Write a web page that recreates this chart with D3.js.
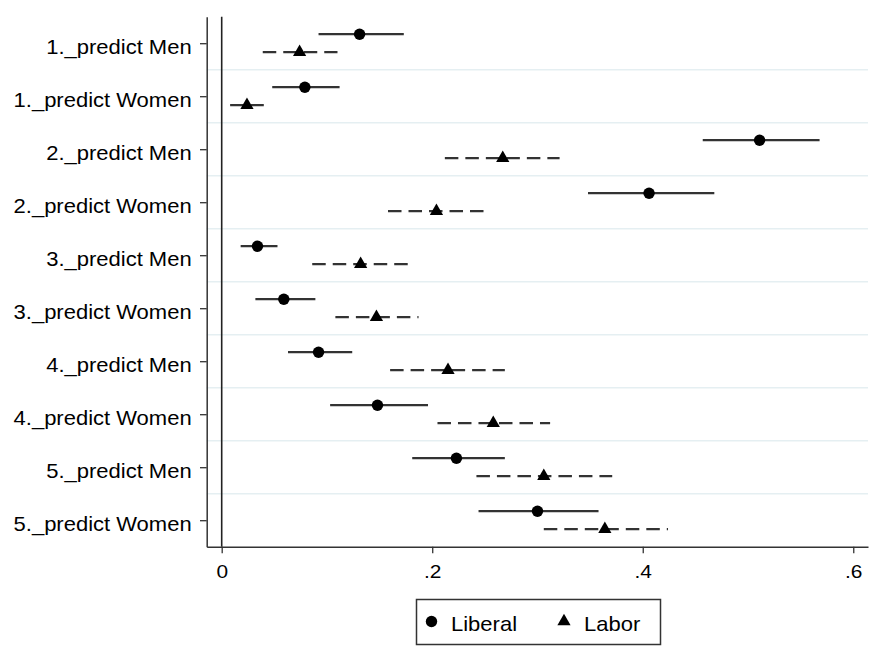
<!DOCTYPE html>
<html>
<head>
<meta charset="utf-8">
<script src="https://cdn.jsdelivr.net/npm/d3@7"></script>
<style>
    body { margin: 0; background: #fff; }
    text { font-family: "Liberation Sans", Arial, Helvetica, sans-serif; fill: #000; }
</style>
</head>
<body>
<svg id="chart" width="880" height="671"></svg>
<script>
// predicted probabilities with 95% CIs
const categories = [
    "1._predict Men", "1._predict Women",
    "2._predict Men", "2._predict Women",
    "3._predict Men", "3._predict Women",
    "4._predict Men", "4._predict Women",
    "5._predict Men", "5._predict Women"
];

const liberalEst = [0.131, 0.079, 0.511, 0.406, 0.034, 0.059, 0.092, 0.148, 0.223, 0.300];
const liberalLo  = [0.092, 0.048, 0.457, 0.348, 0.018, 0.032, 0.063, 0.103, 0.181, 0.244];
const liberalHi  = [0.173, 0.112, 0.568, 0.468, 0.053, 0.089, 0.124, 0.196, 0.269, 0.358];

const laborEst = [0.074, 0.024, 0.267, 0.204, 0.132, 0.147, 0.215, 0.258, 0.306, 0.364];
const laborLo  = [0.039, 0.008, 0.212, 0.158, 0.086, 0.108, 0.160, 0.205, 0.242, 0.306];
const laborHi  = [0.110, 0.040, 0.321, 0.249, 0.177, 0.187, 0.269, 0.312, 0.371, 0.424];

const seriesNames = ["Liberal", "Labor"];

const xTickValues = [0, 0.2, 0.4, 0.6];
const xTickLabels = ["0", ".2", ".4", ".6"];

// stata pads the x range a little beyond the ticks
const xMin = -0.01425;
const xMax = 0.614;

let svg = d3.select("#chart");

svg.append("rect")
    .attr("width", 880)
    .attr("height", 671)
    .style("fill", "#fff");

let x = d3.scaleLinear().domain([xMin, xMax]).range([206.7, 868]);
let y = d3.scalePoint().domain(categories).range([16.7, 546.7]).padding(0.5);

let textScale = "scale(1.1,1)";

// light grid lines between categories
let mids = categories.slice(1).map((c, i) => (y(categories[i]) + y(c)) / 2);
svg.append("g")
    .selectAll("line")
    .data(mids)
    .enter()
    .append("line")
    .attr("x1", x.range()[0])
    .attr("x2", x.range()[1])
    .attr("y1", d => d)
    .attr("y2", d => d)
    .style("stroke", "#e5eff2")
    .style("stroke-width", 1.5);

// reference line at zero
svg.append("line")
    .attr("x1", x(0))
    .attr("x2", x(0))
    .attr("y1", y.range()[0])
    .attr("y2", y.range()[1])
    .style("stroke", "#222")
    .style("stroke-width", 1.6);

// axes
let yAxisG = svg.append("g")
    .attr("transform", "translate(" + x.range()[0] + ",0)")
    .call(d3.axisLeft(y).tickSize(6.7).tickSizeOuter(0).tickPadding(7));

let xAxisG = svg.append("g")
    .attr("transform", "translate(0," + y.range()[1] + ")")
    .call(d3.axisBottom(x)
        .tickValues(xTickValues)
        .tickFormat((d, i) => xTickLabels[i])
        .tickSize(6.6)
        .tickSizeOuter(0)
        .tickPadding(11.7));

[yAxisG, xAxisG].forEach(g => {
    g.select(".domain").style("stroke", "#333").style("stroke-width", 1.5);
    g.selectAll(".tick line").style("stroke", "#333").style("stroke-width", 1.3);
    g.selectAll(".tick text")
        .attr("fill", null)
        .style("fill", "#000")
        .attr("transform", textScale);
});

yAxisG.selectAll(".tick text")
    .attr("dy", "0.5em")
    .style("font-size", "20px");

xAxisG.selectAll(".tick text")
    .style("font-size", "19px");

// one config per series
let series = [
    { name: seriesNames[0], est: liberalEst, lo: liberalLo, hi: liberalHi, offset: -9, dash: null, symbol: d3.symbolCircle, size: 102 },
    { name: seriesNames[1], est: laborEst, lo: laborLo, hi: laborHi, offset: 9, dash: "13.5,7", symbol: d3.symbolTriangle, size: 76 }
];

series.forEach(s => {
    let rows = categories.map((c, i) => ({ cat: c, est: s.est[i], lo: s.lo[i], hi: s.hi[i] }));
    let g = svg.append("g").attr("class", "series");

    g.selectAll("line")
        .data(rows)
        .enter()
        .append("line")
        .attr("x1", d => x(d.lo))
        .attr("x2", d => x(d.hi))
        .attr("y1", d => y(d.cat) + s.offset)
        .attr("y2", d => y(d.cat) + s.offset)
        .style("stroke", "#333")
        .style("stroke-width", 2.3)
        .style("stroke-dasharray", s.dash);

    g.selectAll("path")
        .data(rows)
        .enter()
        .append("path")
        .attr("d", d3.symbol(s.symbol, s.size))
        .attr("transform", d => "translate(" + x(d.est) + "," + (y(d.cat) + s.offset) + ")")
        .style("fill", "#000");
});

// legend
let legend = svg.append("g");

legend.append("rect")
    .attr("x", 416.5)
    .attr("y", 599.5)
    .attr("width", 244)
    .attr("height", 45)
    .style("fill", "#fff")
    .style("stroke", "#333")
    .style("stroke-width", 1.5);

let legendItems = [
    { s: series[0], mx: 431.5, tx: 451 },
    { s: series[1], mx: 564, tx: 584 }
];

legendItems.forEach(it => {
    legend.append("path")
        .attr("d", d3.symbol(it.s.symbol, it.s.size))
        .attr("transform", "translate(" + it.mx + "," + 621.5 + ")")
        .style("fill", "#000");

    legend.append("text")
        .attr("transform", "translate(" + it.tx + "," + 631 + ") " + textScale)
        .style("font-size", "20px")
        .text(it.s.name);
});
</script>
</body>
</html>
